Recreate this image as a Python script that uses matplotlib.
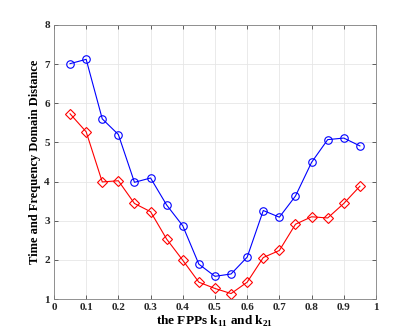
import matplotlib
matplotlib.use('Agg')
import matplotlib.pyplot as plt

x = [0.05, 0.1, 0.15, 0.2, 0.25, 0.3, 0.35, 0.4, 0.45, 0.5, 0.55, 0.6, 0.65, 0.7, 0.75, 0.8, 0.85, 0.9, 0.95]
blue = [7.01, 7.12, 5.6, 5.2, 3.98, 4.09, 3.4, 2.87, 1.89, 1.58, 1.64, 2.07, 3.26, 3.09, 3.63, 4.49, 5.07, 5.11, 4.91]
red = [5.73, 5.27, 3.99, 4.02, 3.44, 3.23, 2.53, 1.99, 1.43, 1.27, 1.14, 1.43, 2.06, 2.24, 2.91, 3.1, 3.07, 3.44, 3.88]
xticks = [0, 0.1, 0.2, 0.3, 0.4, 0.5, 0.6, 0.7, 0.8, 0.9, 1]
xticklabels = ['0', '0.1', '0.2', '0.3', '0.4', '0.5', '0.6', '0.7', '0.8', '0.9', '1']
yticks = [1, 2, 3, 4, 5, 6, 7, 8]

plt.rcParams['font.family'] = 'Liberation Serif'
plt.rcParams['font.weight'] = 'bold'
plt.rcParams['mathtext.fontset'] = 'custom'
plt.rcParams['mathtext.rm'] = 'Liberation Serif:bold'
plt.rcParams['mathtext.bf'] = 'Liberation Serif:bold'

fig = plt.figure(figsize=(4.15, 3.36), dpi=100)
ax = fig.add_axes([0.130, 0.110, 0.776, 0.816])
ax.plot(x, blue, color='#0000ff', marker='o', markersize=5.4, markerfacecolor='none', linewidth=0.8, markeredgewidth=0.8)
ax.plot(x, red, color='#ff0000', marker='D', markersize=4.8, markerfacecolor='none', linewidth=0.8, markeredgewidth=0.8)
ax.set_xlim(0, 1)
ax.set_ylim(1, 8)
ax.set_xticks(xticks)
ax.set_xticklabels(xticklabels)
ax.set_yticks(yticks)
ax.grid(True, color='#e6e6e6', linewidth=0.6)
ax.set_axisbelow(True)
ax.tick_params(direction='in', labelsize=8, top=True, right=True, colors='#262626', length=3, width=0.5, pad=3)
for lab in ax.get_xticklabels() + ax.get_yticklabels():
    lab.set_fontweight('bold')
for s in ax.spines.values():
    s.set_color('#808080')
    s.set_linewidth(0.6)
ax.set_xlabel(r'the FPPs k$_{11}$ and k$_{21}$', fontsize=9.5, fontweight='bold', labelpad=1)
ax.set_ylabel('Time and Frequency Domain Distance', fontsize=9, fontweight='bold', labelpad=2)
fig.savefig('out.png', dpi=100)
